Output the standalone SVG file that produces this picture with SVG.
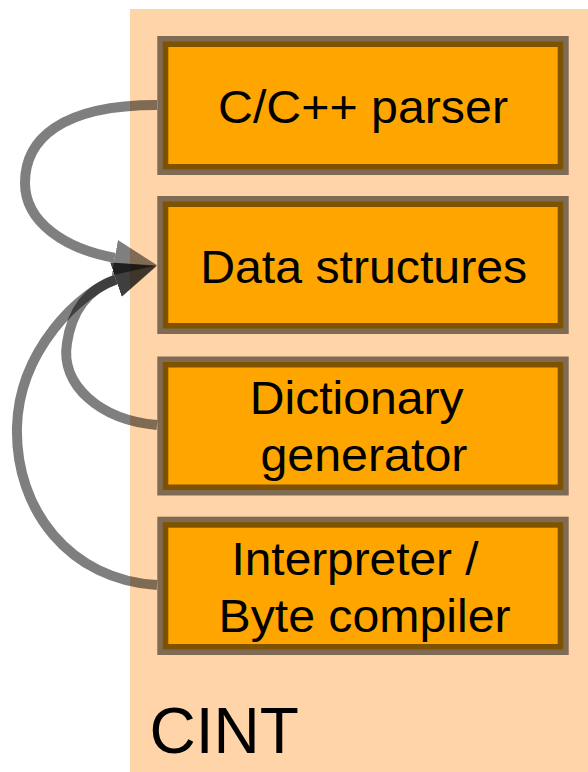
<svg xmlns="http://www.w3.org/2000/svg" width="588" height="772" viewBox="0 0 588 772">
<style>
.box{fill:#FFA500;stroke:#000;stroke-opacity:0.5;stroke-width:11}
.lbl{font-family:"Liberation Sans",Arial,sans-serif;font-size:46px;fill:#000;text-anchor:middle}
.edge{fill:none;stroke:#000;stroke-opacity:0.5;stroke-width:10}
</style>
<defs>
<marker id="ah" markerUnits="userSpaceOnUse" markerWidth="46" markerHeight="40" viewBox="0 -20 46 40" refX="0" refY="0" orient="auto">
<path d="M0,-18 L43,0 L0,18 z" fill="#000" fill-opacity="0.5"/>
</marker>
</defs>
<rect id="container" x="130" y="9" width="458" height="763" fill="#FFD4A9"/>
<g id="cint">
<text x="149.5" y="753" font-family="Liberation Sans, Arial, sans-serif" font-size="64" fill="#000">CINT</text>
</g>
<g id="parser">
<rect class="box" x="162.8" y="41.5" width="400.4" height="128"/>
<text class="lbl" x="363" y="123.3" textLength="290" lengthAdjust="spacingAndGlyphs">C/C++ parser</text>
</g>
<g id="data">
<rect class="box" x="162.8" y="201.5" width="400.4" height="127"/>
<text class="lbl" x="363.7" y="282.7" textLength="327" lengthAdjust="spacingAndGlyphs">Data structures</text>
</g>
<g id="dictionary">
<rect class="box" x="162.8" y="362" width="400.4" height="128"/>
<text class="lbl" x="356.7" y="414.3" textLength="214" lengthAdjust="spacingAndGlyphs">Dictionary</text>
<text class="lbl" x="363.9" y="471" textLength="207" lengthAdjust="spacingAndGlyphs">generator</text>
</g>
<g id="interpreter">
<rect class="box" x="162.8" y="522.2" width="400.4" height="127.3"/>
<text class="lbl" x="355" y="575" textLength="247" lengthAdjust="spacingAndGlyphs">Interpreter /</text>
<text class="lbl" x="364.5" y="631.7" textLength="292" lengthAdjust="spacingAndGlyphs">Byte compiler</text>
</g>
<g id="connectors">
<path class="edge" marker-end="url(#ah)" d="M157,105 C60,105 25,140 25,183 C25,222 65,249 114.8,257.8"/>
<path class="edge" marker-end="url(#ah)" d="M157,425 C100,420 60,385 67,343 C72,310 88,289 116,279.6"/>
<path class="edge" marker-end="url(#ah)" d="M157,585 C70,580 15,510 17,427 C19,350 80,292 116,279.6"/>
</g>
</svg>
